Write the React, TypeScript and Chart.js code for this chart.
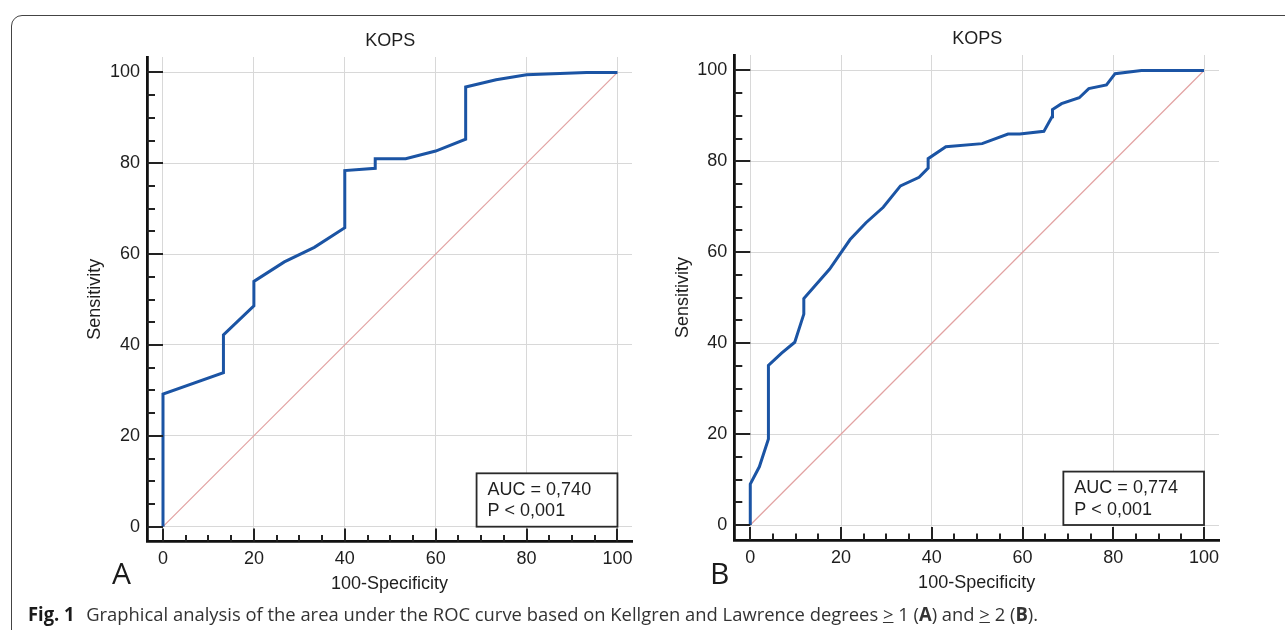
import React, { useEffect, useLayoutEffect, useRef, useState } from 'react';
import { Chart, registerables } from 'chart.js';

Chart.register(...registerables);

// ---------- data ----------
const MAJOR_TICKS = [0, 20, 40, 60, 80, 100];
const MINOR_TICKS = [0, 5, 10, 15, 20, 25, 30, 35, 40, 45, 50, 55, 60, 65, 70, 75, 80, 85, 90, 95, 100];

const chartTitle = 'KOPS';
const xAxisTitle = '100-Specificity';
const yAxisTitle = 'Sensitivity';

const rocA_x = [0, 0, 13.3, 13.3, 20, 20, 26.7, 33.3, 40, 40, 46.7, 46.7, 53.4, 60, 66.6, 66.6, 73.3, 80, 93.2, 100];
const rocA_y = [0, 29.2, 33.9, 42.2, 48.6, 54.0, 58.3, 61.5, 65.8, 78.4, 78.9, 81.0, 81.0, 82.7, 85.3, 96.8, 98.4, 99.5, 100, 100];

const rocB_x = [0, 0, 2.0, 4.0, 4.0, 6.9, 9.8, 11.8, 11.8, 17.5, 20, 22, 25.5, 29.3, 33.1, 37.2, 39.2, 39.2, 43.1, 51.1, 56.8, 59.4, 64.7, 66.5, 66.6, 68.6, 72.5, 74.6, 78.5, 80.4, 86.2, 100];
const rocB_y = [0, 9.0, 12.8, 18.9, 35.1, 37.8, 40.2, 46.4, 49.8, 56.3, 59.9, 62.8, 66.5, 69.9, 74.6, 76.5, 78.5, 80.6, 83.2, 83.9, 86.0, 86.0, 86.6, 89.8, 91.4, 92.7, 94.0, 96.0, 96.8, 99.3, 100, 100];

const diag_x = [0, 100];
const diag_y = [0, 100];

const aucA = ['AUC = 0,740', 'P < 0,001'];
const aucB = ['AUC = 0,774', 'P < 0,001'];

const captionBold = 'Fig. 1';
const captionText = 'Graphical analysis of the area under the ROC curve based on Kellgren and Lawrence degrees ';

// ---------- styling ----------
const FONT = '"Liberation Sans", Arial, sans-serif';
const TEXT_COLOR = '#1e1e1e';
const CURVE_COLOR = '#1b54a4';
const DIAG_COLOR = '#e2a2a2';
const GRID_COLOR = '#d8d8d8';
const AXIS_COLOR = '#111';

const decorPlugin = {
  id: 'rocDecor',
  afterDraw(chart: any, _args: any, opts: any) {
    const ctx = chart.ctx;
    const xs = chart.scales.x;
    const ys = chart.scales.y;
    const ca = chart.chartArea;
    ctx.save();
    // inward tick marks
    ctx.strokeStyle = '#222';
    ctx.lineWidth = 2;
    ctx.beginPath();
    for (const v of MINOR_TICKS) {
      const major = v % 20 === 0;
      const py = Math.round(ys.getPixelForValue(v));
      ctx.moveTo(ca.left, py);
      ctx.lineTo(ca.left + (major ? 16 : 8), py);
      const px = Math.round(xs.getPixelForValue(v));
      ctx.moveTo(px, ca.bottom);
      ctx.lineTo(px, ca.bottom - (major ? 13 : 6.5));
    }
    ctx.stroke();

    // title
    ctx.fillStyle = TEXT_COLOR;
    ctx.font = `18px ${FONT}`;
    ctx.textAlign = 'center';
    ctx.textBaseline = 'middle';
    ctx.fillText(opts.title, xs.getPixelForValue(50), ca.top - 16);

    // AUC box
    const x1 = xs.getPixelForValue(69);
    const x2 = xs.getPixelForValue(100);
    const y1 = ys.getPixelForValue(11.75);
    const y2 = ys.getPixelForValue(0);
    ctx.fillStyle = '#fff';
    ctx.fillRect(x1, y1, x2 - x1, y2 - y1);
    ctx.strokeStyle = '#2a2a2a';
    ctx.lineWidth = 1.8;
    ctx.strokeRect(x1, y1, x2 - x1, y2 - y1);
    ctx.fillStyle = TEXT_COLOR;
    ctx.textAlign = 'left';
    ctx.fillText(opts.lines[0], x1 + 11, y1 + 16.5);
    ctx.fillText(opts.lines[1], x1 + 11, y1 + 38);
    ctx.restore();
  },
};

type RocProps = {
  xs: number[];
  ys: number[];
  lines: string[];
  left: number;
  top: number;
  width: number;
  height: number;
  pad: { left: number; right: number; top: number; bottom: number };
  yAxisWidth: number;
  xAxisHeight: number;
  xMin: number;
  xMax: number;
  yMin: number;
  yMax: number;
};

function RocChart(p: RocProps) {
  const ref = useRef<HTMLCanvasElement>(null);
  useEffect(() => {
    if (!ref.current) return;
    const curve = p.xs.map((x, i) => ({ x, y: p.ys[i] }));
    const diag = diag_x.map((x, i) => ({ x, y: diag_y[i] }));
    const tickFont = { family: FONT, size: 18 };
    const chart = new Chart(ref.current, {
      type: 'line',
      data: {
        datasets: [
          {
            data: curve,
            borderColor: CURVE_COLOR,
            borderWidth: 3,
            pointRadius: 0,
            tension: 0,
            fill: false,
            borderJoinStyle: 'miter',
          },
          {
            data: diag,
            borderColor: DIAG_COLOR,
            borderWidth: 1.2,
            pointRadius: 0,
            tension: 0,
            fill: false,
          },
        ],
      } as any,
      options: {
        animation: false,
        responsive: false,
        maintainAspectRatio: false,
        devicePixelRatio: 1,
        layout: { padding: p.pad },
        plugins: {
          legend: { display: false },
          tooltip: { enabled: false },
          title: { display: false },
          rocDecor: { title: chartTitle, lines: p.lines },
        } as any,
        scales: {
          x: {
            type: 'linear',
            min: p.xMin,
            max: p.xMax,
            afterBuildTicks: (s: any) => {
              s.ticks = MAJOR_TICKS.map((v) => ({ value: v }));
            },
            afterFit: (s: any) => {
              s.height = p.xAxisHeight;
            },
            ticks: {
              autoSkip: false,
              maxRotation: 0,
              padding: 7,
              font: tickFont,
              color: TEXT_COLOR,
              callback: (v: any) => String(v),
            },
            grid: { color: GRID_COLOR, lineWidth: 1, drawTicks: false },
            border: { display: true, color: AXIS_COLOR, width: 2.8 },
            title: { display: true, text: xAxisTitle, font: tickFont, color: TEXT_COLOR, padding: 0 },
          },
          y: {
            type: 'linear',
            min: p.yMin,
            max: p.yMax,
            afterBuildTicks: (s: any) => {
              s.ticks = MAJOR_TICKS.map((v) => ({ value: v }));
            },
            afterFit: (s: any) => {
              s.width = p.yAxisWidth;
            },
            ticks: {
              autoSkip: false,
              padding: 7,
              font: tickFont,
              color: TEXT_COLOR,
              callback: (v: any) => String(v),
            },
            grid: { color: GRID_COLOR, lineWidth: 1, drawTicks: false },
            border: { display: true, color: AXIS_COLOR, width: 2.8 },
            title: { display: true, text: yAxisTitle, font: tickFont, color: TEXT_COLOR, padding: 0 },
          },
        },
      } as any,
      plugins: [decorPlugin],
    });
    return () => chart.destroy();
  }, []);
  return (
    <canvas
      ref={ref}
      width={p.width}
      height={p.height}
      style={{ position: 'absolute', left: p.left, top: p.top, width: p.width, height: p.height }}
    />
  );
}

function Caption() {
  const ref = useRef<HTMLDivElement>(null);
  const [sx, setSx] = useState(1);
  useLayoutEffect(() => {
    if (ref.current) {
      const w = ref.current.getBoundingClientRect().width;
      if (w > 0) setSx(1010 / w);
    }
  }, []);
  return (
    <div
      ref={ref}
      style={{
        position: 'absolute',
        left: 28,
        top: 601,
        display: 'inline-block',
        whiteSpace: 'nowrap',
        fontFamily: '"Open Sans", "Noto Sans", sans-serif',
        fontSize: 19,
        lineHeight: 'normal',
        color: '#333',
        transform: `scaleX(${sx})`,
        transformOrigin: 'left top',
      }}
    >
      <b style={{ color: '#1a1a1a' }}>{captionBold}</b>
      <span style={{ display: 'inline-block', width: 12 }} />
      {captionText}
      <span style={{ textDecoration: 'underline' }}>&gt;</span> 1 (<b>A</b>) and{' '}
      <span style={{ textDecoration: 'underline' }}>&gt;</span> 2 (<b>B</b>).
    </div>
  );
}

export default function App() {
  return (
    <div
      style={{
        position: 'fixed',
        left: 0,
        top: 0,
        width: 1285,
        height: 630,
        background: '#fff',
        overflow: 'hidden',
      }}
    >
      <div
        style={{
          position: 'absolute',
          left: 11,
          top: 15,
          width: 1400,
          height: 800,
          border: '1.5px solid #444',
          borderRadius: 11,
          boxSizing: 'border-box',
        }}
      />
      <RocChart
        xs={rocA_x}
        ys={rocA_y}
        lines={aucA}
        left={0}
        top={0}
        width={655}
        height={630}
        pad={{ left: 84.5, right: 23, top: 57, bottom: 35 }}
        yAxisWidth={62.5}
        xAxisHeight={53.5}
        xMin={-3.52}
        xMax={103.2}
        yMin={-3.26}
        yMax={103.4}
      />
      <RocChart
        xs={rocB_x}
        ys={rocB_y}
        lines={aucB}
        left={655}
        top={0}
        width={630}
        height={630}
        pad={{ left: 16.8, right: 66, top: 55, bottom: 36.5 }}
        yAxisWidth={62.5}
        xAxisHeight={53.5}
        xMin={-3.52}
        xMax={103.3}
        yMin={-3.3}
        yMax={103.4}
      />
      <div
        style={{
          position: 'absolute',
          left: 112,
          top: 558,
          fontFamily: '"Open Sans", sans-serif',
          fontSize: 30,
          lineHeight: '30px',
          color: '#1a1a1a',
        }}
      >
        A
      </div>
      <div
        style={{
          position: 'absolute',
          left: 710,
          top: 558,
          fontFamily: '"Open Sans", sans-serif',
          fontSize: 30,
          lineHeight: '30px',
          color: '#1a1a1a',
        }}
      >
        B
      </div>
      <Caption />
    </div>
  );
}
